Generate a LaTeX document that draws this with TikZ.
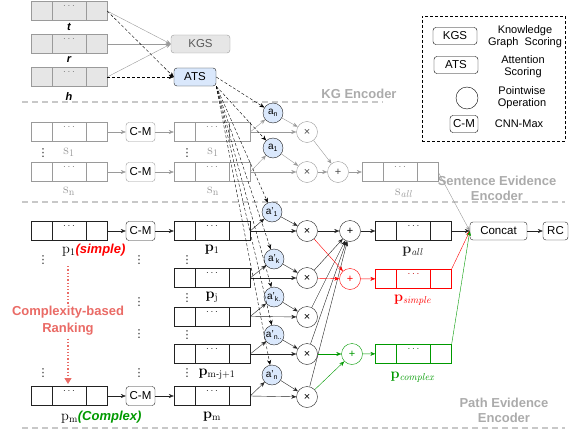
\documentclass[tikz,border=0pt]{standalone}
\usepackage[no-math]{fontspec}
\setmainfont{Liberation Sans}
\newfontfamily\symfont{DejaVu Sans}
\usetikzlibrary{arrows.meta}
\definecolor{kggray}{HTML}{E6E6E6}
\definecolor{linegray}{HTML}{9A9A9A}
\definecolor{sepgray}{HTML}{C8C8C8}
\definecolor{labgray}{HTML}{ABABAB}
\definecolor{attblue}{HTML}{DAE8FC}
\definecolor{rankred}{HTML}{EA6B66}
\definecolor{pgreen}{HTML}{009900}
\definecolor{pred}{HTML}{FF0000}
\definecolor{pdark}{HTML}{222222}
\begin{document}
\begin{tikzpicture}[
    x=1pt, y=-1pt,
    font=\fontsize{11.5}{13}\selectfont,
    >={Stealth[length=5pt,width=4pt]},
    emb/.style={
        draw=#1,
        minimum width=76pt,
        minimum height=19pt,
        inner sep=0pt,
        path picture={
            \draw[#1] ([xshift=21pt]path picture bounding box.north west) -- ([xshift=21pt]path picture bounding box.south west);
            \draw[#1] ([xshift=-21pt]path picture bounding box.north east) -- ([xshift=-21pt]path picture bounding box.south east);
            \node[text=#1!75!black, inner sep=0pt, font=\fontsize{10}{10}\selectfont] at ([xshift=38pt,yshift=-5pt]path picture bounding box.north west) {$\cdots$};
        }
    },
    cmbox/.style={
        draw=#1,
        rounded corners=3pt,
        minimum width=29pt,
        minimum height=19pt,
        inner sep=0pt
    },
    scorebox/.style={
        draw,
        rounded corners=3pt,
        minimum height=18pt,
        inner sep=0pt
    },
    att/.style={
        circle,
        draw=pdark,
        fill=attblue,
        minimum size=20pt,
        inner sep=0pt,
        font=\fontsize{10}{10}\selectfont
    },
    op/.style={
        circle,
        draw=#1,
        minimum size=21pt,
        inner sep=0pt,
        font=\fontsize{11}{11}\selectfont
    },
    vd/.style={text=pdark, inner sep=0pt, font=\symfont\fontsize{11}{11}\selectfont},
    lab/.style={font=\fontsize{14}{16}\selectfont, inner sep=1pt},
    sect/.style={
        text=labgray,
        align=center,
        font=\bfseries\fontsize{13}{15}\selectfont
    },
    legtext/.style={align=center, font=\fontsize{11}{12}\selectfont},
    sep/.style={draw=sepgray, line width=1.5pt, dash pattern=on 6pt off 4pt},
    gline/.style={draw=linegray, ->},
    pline/.style={draw=pdark, ->},
    dline/.style={draw=black, dash pattern=on 3pt off 2pt, ->}
]
\useasboundingbox (0,0) rectangle (570,436);
% Trennlinien
\draw[sep] (22,102) -- (383,102);
\draw[sep] (22,202) -- (565,202);
\draw[sep] (22,428) -- (565,428);
\node[sect] (kgenc) at (359,94) {KG Encoder};
\node[sect] (senenc) at (497,188) {Sentence Evidence\\Encoder};
\node[sect] (pathenc) at (504,410) {Path Evidence\\Encoder};
% Legende
\node[draw, dash pattern=on 3pt off 2pt, minimum width=143pt, minimum height=125pt] (legend) at (493.5,78.5) {};
\node[scorebox, minimum width=44pt, minimum height=17pt] (lkgs) at (455,36) {KGS};
\node[legtext] (tkgs) at (525,37) {Knowledge\\Graph~~Scoring};
\node[scorebox, minimum width=44pt, minimum height=17pt] (lats) at (456,65) {ATS};
\node[legtext] (tats) at (523,67) {Attention\\Scoring};
\node[op=black, minimum size=22pt] (lop) at (467,98) {};
\node[legtext] (top) at (522,98) {Pointwise\\Operation};
\node[cmbox=black, minimum height=17pt, minimum width=28pt] (lcm) at (464,124) {C-M};
\node[legtext] (tcm) at (519,124) {CNN-Max};
% KG Encoder
\node[emb=linegray, fill=kggray] (et) at (69,11) {};
\node[emb=linegray, fill=kggray] (er) at (69,44) {};
\node[emb=linegray, fill=kggray] (eh) at (69,77) {};
\node[font=\bfseries\itshape\fontsize{11}{11}\selectfont] (lt) at (69,27) {t};
\node[font=\bfseries\itshape\fontsize{11}{11}\selectfont] (lr) at (69,60) {r};
\node[font=\bfseries\itshape\fontsize{11}{11}\selectfont] (lh) at (69,97) {h};
\node[scorebox, draw=linegray, fill=kggray, text=black!65, minimum width=59pt] (kgs) at (200.5,44) {KGS};
\node[scorebox, draw=pdark, fill=attblue, minimum width=42pt] (ats) at (195,77) {ATS};
\draw[gline] (et.east) -- (kgs.west);
\draw[gline] (er.east) -- (kgs.west);
\draw[gline] (eh.east) -- (kgs.west);
\draw[dline] (et.east) -- (ats.west);
\draw[dline] (eh.east) -- (ats.west);
% Sentence Evidence Encoder
\node[emb=linegray] (s1a) at (69,132) {};
\node[cmbox=linegray] (cms1) at (140.5,132) {C-M};
\node[emb=linegray] (s1b) at (212,132) {};
\node[emb=linegray] (sna) at (69,172) {};
\node[cmbox=linegray] (cmsn) at (140.5,172) {C-M};
\node[emb=linegray] (snb) at (212,172) {};
\node[lab, text=linegray] (ls1a) at (69,152) {$\mathrm{s}_1$};
\node[lab, text=linegray] (ls1b) at (213,152) {$\mathrm{s}_1$};
\node[lab, text=linegray] (lsna) at (69,191) {$\mathrm{s}_\mathrm{n}$};
\node[lab, text=linegray] (lsnb) at (213,191) {$\mathrm{s}_\mathrm{n}$};
\node[vd] (vd1) at (43,153) {⋮};
\node[vd] (vd2) at (187,153) {⋮};
\node[att] (an) at (273,113) {a\textsubscript{n}};
\node[att] (a1) at (273,148) {a\textsubscript{1}};
\node[op=linegray, text=black!70] (ms1) at (307,132) {×};
\node[op=linegray, text=black!70] (msn) at (307,172) {×};
\node[op=linegray, text=black!70] (ps) at (338,172) {+};
\node[emb=linegray] (sall) at (400,172) {};
\node[lab, text=linegray] (lsall) at (404,193) {$\mathrm{s}_{\mathit{all}}$};
\draw[gline] (s1a) -- (cms1);
\draw[gline] (cms1) -- (s1b);
\draw[gline] (sna) -- (cmsn);
\draw[gline] (cmsn) -- (snb);
\draw[gline] (s1b.east) -- (an);
\draw[gline] (s1b.east) -- (ms1);
\draw[gline] (snb.east) -- (a1);
\draw[gline] (snb.east) -- (msn);
\draw[gline] (an) -- (ms1);
\draw[gline] (a1) -- (msn);
\draw[gline] (ms1) -- (ps);
\draw[gline] (msn) -- (ps);
\draw[gline] (ps) -- (sall);
% Path Evidence Encoder
\node[emb=pdark] (p1a) at (69,231) {};
\node[cmbox=pdark] (cmp1) at (140.5,231) {C-M};
\node[emb=pdark] (p1b) at (212,231) {};
\node[emb=pdark] (pj) at (212,278) {};
\node[emb=pdark] (p3) at (212,316.5) {};
\node[emb=pdark] (pmj) at (212,354) {};
\node[emb=pdark] (pma) at (69,396) {};
\node[cmbox=pdark] (cmpm) at (140.5,396) {C-M};
\node[emb=pdark] (pmb) at (212,396) {};
\node[lab, anchor=west] (lp1a) at (61,250) {$\mathrm{p}_1$\textcolor{pred}{\bfseries\itshape\fontsize{13}{13}\selectfont(simple)}};
\node[lab, anchor=west] (lpma) at (60,417) {$\mathrm{p}_\mathrm{m}$\textcolor{pgreen}{\bfseries\itshape\fontsize{13}{13}\selectfont(Complex)}};
\node[lab] (lp1b) at (212,250) {$\mathbf{p}_1$};
\node[lab] (lpj) at (212,297) {$\mathbf{p}_\mathrm{j}$};
\node[lab] (lpmj) at (217,374) {$\mathbf{p}_{\mathrm{m}\mbox{\fontsize{9}{9}\selectfont -}\mathrm{j}+1}$};
\node[lab] (lpmb) at (212,417) {$\mathbf{p}_\mathrm{m}$};
\foreach \vx/\vy [count=\i] in {43/260, 139/260, 187/260, 139/302, 187/298, 139/334, 187/335, 43/373, 139/373, 187/373}
    \node[vd] (pd\i) at (\vx,\vy) {⋮};
% Ranking
\coordinate (rk1) at (68,266);
\coordinate (rk2) at (68,384);
\draw[rankred, line width=1.3pt, dotted, -{Triangle[length=6pt,width=7pt]}] (rk1) -- (rk2);
\node[fill=white, inner sep=1pt, text=rankred, align=center, font=\bfseries\fontsize{13}{17}\selectfont] (rank) at (68,321) {Complexity-based\\Ranking};
% Attention und Operationen
\node[att] (q1) at (272,212) {a'\textsubscript{1}};
\node[att] (qk) at (274,259) {a'\textsubscript{k}};
\node[att] (qk2) at (274,297) {a'\textsubscript{k.}};
\node[att] (qn2) at (274,335) {a'\textsubscript{n..}};
\node[att] (qn) at (272,375) {a'\textsubscript{n}};
\node[op=pdark] (m1) at (307,231) {×};
\node[op=pdark] (m2) at (307,278) {×};
\node[op=pdark] (m3) at (307,317) {×};
\node[op=pdark] (m4) at (307,354) {×};
\node[op=pdark] (m5) at (307,397) {×};
\node[op=pdark] (pall) at (350,231) {+};
\node[op=pred, text=pred] (psim) at (350,279) {+};
\node[op=pgreen, text=pgreen] (pcom) at (352,354) {+};
\node[emb=pdark] (ball) at (413.5,231) {};
\node[emb=pred] (bsim) at (413.5,278.5) {};
\node[emb=pgreen] (bcom) at (413.5,353.5) {};
\node[lab, text=pdark] (lball) at (413,252) {$\mathbf{p}_{\mathit{all}}$};
\node[lab, text=pred] (lbsim) at (413,300) {$\mathbf{p}_{\mathit{simple}}$};
\node[lab, text=pgreen] (lbcom) at (413,377) {$\mathbf{p}_{\mathit{complex}}$};
\node[scorebox, draw=pdark, minimum width=57pt] (concat) at (498.5,231) {Concat};
\node[scorebox, draw=pdark, minimum width=25pt] (rc) at (555.5,231) {RC};
\draw[pline] (p1a) -- (cmp1);
\draw[pline] (cmp1) -- (p1b);
\draw[pline] (pma) -- (cmpm);
\draw[pline] (cmpm) -- (pmb);
\foreach \b/\q/\m in {p1b/q1/m1, pj/qk/m2, p3/qk2/m3, pmj/qn2/m4, pmb/qn/m5} {
    \draw[pline] (\b.east) -- (\q);
    \draw[pline] (\b.east) -- (\m);
    \draw[pline] (\q) -- (\m);
    \draw[pline] (\m) -- (pall);
}
\draw[pred, ->] (m1) -- (psim);
\draw[pred, ->] (m2) -- (psim);
\draw[pgreen, ->] (m4) -- (pcom);
\draw[pgreen, ->] (m5) -- (pcom);
\draw[pline] (pall) -- (ball);
\draw[pred, ->] (psim) -- (bsim);
\draw[pgreen, ->] (pcom) -- (bcom);
\draw[gline] (sall.east) -- (concat.west);
\draw[pline] (ball) -- (concat);
\draw[pred, ->] (bsim.north east) -- (concat.west);
\draw[pgreen, ->] (bcom.north east) -- (concat.west);
\draw[pline] (concat) -- (rc);
% ATS -> Attention
\draw[dline] (ats.east) -- (an);
\foreach \q in {a1, q1, qk, qk2, qn2, qn}
    \draw[dline] (ats.south east) -- (\q);
\end{tikzpicture}
\end{document}
